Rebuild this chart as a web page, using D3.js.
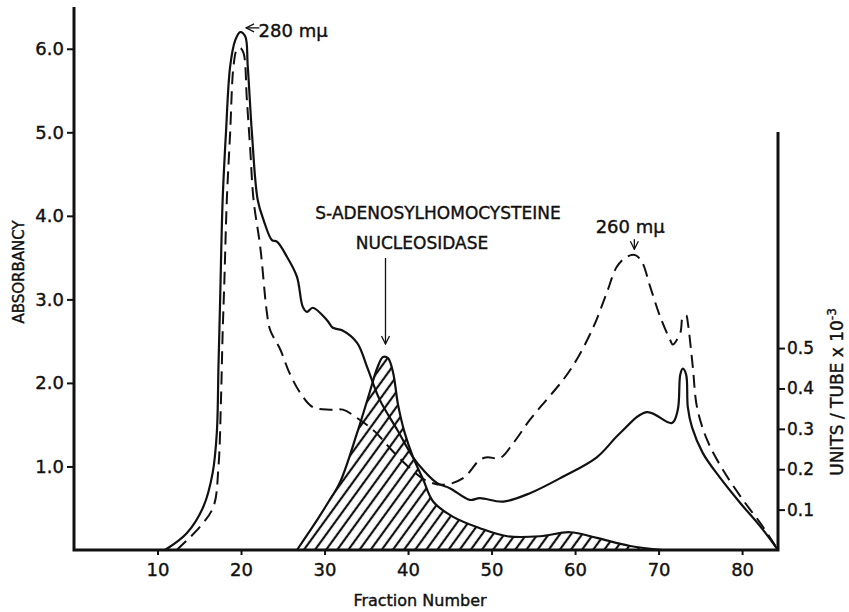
<!DOCTYPE html>
<html lang="en">
<head>
    <meta charset="UTF-8" />
    <title>Fraction profile</title>
    <script src="https://d3js.org/d3.v7.min.js"></script>
    <style>
        body { margin: 0; background: #fff; }
        text { font-family: "DejaVu Sans", sans-serif; fill: #111; stroke: #111; stroke-width: 0.4px; }
    </style>
</head>
<body>
    <script>
        var w = 849;
        var h = 612;

        // absorbancy at 280 mu (solid)
        var fraction280 = [10.9, 13.5, 15.5, 16.6, 17.1, 17.3, 17.5, 17.8, 18.2, 18.7, 19.3, 19.9, 20.5, 20.8, 21.3, 22.0,
            22.7, 23.7, 24.3, 25.5, 26.7, 27.4, 27.9, 28.6, 30.3, 31.0, 32.1, 33.9, 35.1, 36.6, 38.7, 40.6, 41.8, 43.5,
            45.0, 47.4, 48.6, 51.4, 54.6, 58.6, 62.6, 65.4, 68.6, 71.6, 72.3, 72.6, 72.9, 73.3, 73.5, 74.0, 75.3, 77.4,
            79.8, 82.2, 84.3];
        var abs280 = [0, 0.2, 0.52, 0.92, 1.4, 2.2, 3.0, 4.19, 5.0, 5.79, 6.1, 6.2, 6.15, 5.8, 5.0, 4.19,
            3.95, 3.71, 3.69, 3.51, 3.27, 2.91, 2.85, 2.9, 2.75, 2.66, 2.63, 2.48, 2.19, 1.8, 1.44, 1.11, 0.96, 0.8,
            0.74, 0.6, 0.62, 0.58, 0.68, 0.88, 1.11, 1.4, 1.65, 1.52, 1.68, 2.1, 2.17, 2.1, 1.71, 1.47, 1.16, 0.86,
            0.56, 0.28, 0];

        // absorbancy at 260 mu (dashed)
        var fraction260 = [12.3, 15.1, 16.7, 17.3, 17.6, 17.8, 18.0, 18.3, 18.7, 19.1, 19.5, 19.9, 20.3, 20.7, 21.1, 21.5,
            22.3, 23.1, 23.5, 24.7, 25.8, 27.1, 28.6, 30.7, 32.2, 33.9, 36.0, 38.0, 40.0, 42.0, 44.2, 46.6, 48.6, 49.5,
            51.0, 52.6, 54.6, 56.6, 58.6, 60.2, 62.2, 63.8, 65.0, 66.2, 67.2, 68.0, 69.0, 70.2, 71.4, 71.7, 72.6, 72.9,
            73.3, 73.5, 74.1, 74.6, 75.8, 77.7, 80.1, 82.2, 84.3];
        var abs260 = [0, 0.28, 0.52, 1.0, 1.8, 2.6, 3.2, 4.19, 5.0, 5.79, 5.99, 6.01, 5.95, 5.39, 4.8, 4.19,
            3.63, 2.84, 2.63, 2.4, 2.12, 1.88, 1.71, 1.68, 1.68, 1.58, 1.42, 1.2, 1.0, 0.84, 0.78, 0.86, 1.08, 1.11,
            1.1, 1.28, 1.56, 1.8, 2.04, 2.28, 2.67, 3.08, 3.39, 3.51, 3.53, 3.45, 3.15, 2.79, 2.51, 2.46, 2.6, 2.79,
            2.81, 2.72, 2.19, 1.71, 1.32, 0.96, 0.6, 0.32, 0];

        // enzyme activity, units/tube x 10^-3 (hatched)
        var fractionEnz = [26.7, 28.0, 29.1, 30.5, 31.9, 33.9, 35.4, 36.3, 37.0, 37.6, 38.2, 38.8, 39.6, 40.6, 41.8, 43.0,
            45.4, 48.6, 51.9, 55.8, 59.4, 62.6, 66.6, 70.5];
        var unitsEnz = [0, 0.04, 0.074, 0.12, 0.17, 0.29, 0.39, 0.45, 0.478, 0.475, 0.44, 0.36, 0.29, 0.23, 0.175, 0.12,
            0.082, 0.054, 0.034, 0.034, 0.044, 0.03, 0.01, 0];

        var xTicks = [10, 20, 30, 40, 50, 60, 70, 80];
        var leftTicks = [1, 2, 3, 4, 5, 6];
        var rightTicks = [0.1, 0.2, 0.3, 0.4, 0.5];

        var svg = d3.select("body")
            .append("svg")
            .attr("width", w)
            .attr("height", h);

        // Scales
        var xScale = d3.scaleLinear().domain([0, 84.3]).range([74, 778]);
        var yLeft = d3.scaleLinear().domain([0, 6.5]).range([550, 7]);
        var yRight = d3.scaleLinear().domain([0, 1.035]).range([550, 132]);

        // hatch pattern
        var defs = svg.append("defs");
        defs.append("pattern")
            .attr("id", "hatch")
            .attr("patternUnits", "userSpaceOnUse")
            .attr("width", 9)
            .attr("height", 9)
            .attr("patternTransform", "rotate(36)")
            .append("line")
            .attr("x1", 2).attr("y1", 0)
            .attr("x2", 2).attr("y2", 9)
            .attr("stroke", "#111")
            .attr("stroke-width", 2.2);

        defs.append("marker")
            .attr("id", "arr")
            .attr("viewBox", "0 0 10 10")
            .attr("refX", 9).attr("refY", 5)
            .attr("markerWidth", 10).attr("markerHeight", 10)
            .attr("markerUnits", "userSpaceOnUse")
            .attr("orient", "auto")
            .append("path")
            .attr("d", "M1,1 L9,5 L1,9")
            .attr("fill", "none")
            .attr("stroke", "#111")
            .attr("stroke-width", 1.3);

        // Enzyme area
        var enz = fractionEnz.map(function(f, i) { return [f, unitsEnz[i]]; });
        var area = d3.area()
            .x(function(d) { return xScale(d[0]); })
            .y0(yRight(0))
            .y1(function(d) { return yRight(d[1]); })
            .curve(d3.curveCatmullRom.alpha(0.5));
        var line = d3.line()
            .x(function(d) { return xScale(d[0]); })
            .y(function(d) { return yRight(d[1]); })
            .curve(d3.curveCatmullRom.alpha(0.5));

        svg.append("path")
            .attr("d", area(enz))
            .attr("fill", "url(#hatch)");
        svg.append("path")
            .attr("d", line(enz))
            .attr("fill", "none")
            .attr("stroke", "#111")
            .attr("stroke-width", 2.2);

        // Absorbancy curves
        var absLine = d3.line()
            .x(function(d) { return xScale(d[0]); })
            .y(function(d) { return yLeft(d[1]); })
            .curve(d3.curveCatmullRom.alpha(0.5));

        var solid = fraction280.map(function(f, i) { return [f, abs280[i]]; });
        var dashed = fraction260.map(function(f, i) { return [f, abs260[i]]; });

        svg.append("path")
            .attr("d", absLine(dashed))
            .attr("fill", "none")
            .attr("stroke", "#111")
            .attr("stroke-width", 2)
            .attr("stroke-dasharray", "13,7");

        svg.append("path")
            .attr("d", absLine(solid))
            .attr("fill", "none")
            .attr("stroke", "#111")
            .attr("stroke-width", 2.2);

        // Axes
        var xAxis = d3.axisBottom(xScale)
            .tickValues(xTicks)
            .tickSize(5)
            .tickSizeOuter(0)
            .tickPadding(8)
            .tickFormat(d3.format("d"));
        var gx = svg.append("g")
            .attr("transform", "translate(0,550)")
            .call(xAxis);

        var gl = svg.append("g")
            .attr("transform", "translate(74,0)")
            .call(d3.axisLeft(yLeft)
                .tickValues(leftTicks)
                .tickSize(7)
                .tickSizeOuter(0)
                .tickPadding(3)
                .tickFormat(d3.format(".1f")));

        var gr = svg.append("g")
            .attr("transform", "translate(778,0)")
            .call(d3.axisRight(yRight)
                .tickValues(rightTicks)
                .tickSize(7)
                .tickSizeOuter(0)
                .tickPadding(2)
                .tickFormat(d3.format(".1f")));

        [gx, gl, gr].forEach(function(g) {
            g.selectAll(".domain").remove();
            g.selectAll(".tick line").attr("stroke", "#111").attr("stroke-width", 2);
            g.selectAll(".tick text").style("font-size", "18px").attr("fill", "#111");
        });
        gr.selectAll(".tick text").style("font-size", "17px");

        // axis lines
        svg.append("path")
            .attr("d", "M" + xScale(0) + "," + yLeft(6.5) + "V" + yLeft(0) + "H" + xScale(84.3) + "V" + yRight(1.035))
            .attr("fill", "none")
            .attr("stroke", "#111")
            .attr("stroke-width", 3);

        // Axis titles
        svg.append("text")
            .attr("x", 420)
            .attr("y", 606)
            .attr("text-anchor", "middle")
            .style("font-size", "16px")
            .text("Fraction Number");

        svg.append("text")
            .attr("transform", "translate(24,272) rotate(-90)")
            .attr("text-anchor", "middle")
            .style("font-size", "15px")
            .text("ABSORBANCY");

        var rt = svg.append("text")
            .attr("transform", "translate(843,392) rotate(-90)")
            .attr("text-anchor", "middle")
            .style("font-size", "17px");
        rt.append("tspan").text("UNITS / TUBE  x 10");
        rt.append("tspan").attr("dy", -7).style("font-size", "12px").text("-3");

        // Annotations
        svg.append("text")
            .attr("x", xScale(22.1))
            .attr("y", yLeft(6.2) + 5)
            .style("font-size", "18px")
            .text("280 m\u03bc");
        svg.append("line")
            .attr("x1", xScale(22.2)).attr("y1", yLeft(6.25))
            .attr("x2", xScale(20.6)).attr("y2", yLeft(6.25))
            .attr("stroke", "#111").attr("stroke-width", 1.3)
            .attr("marker-end", "url(#arr)");

        svg.append("text")
            .attr("x", xScale(66.6))
            .attr("y", yLeft(3.87) + 6)
            .attr("text-anchor", "middle")
            .style("font-size", "18px")
            .text("260 m\u03bc");
        svg.append("line")
            .attr("x1", xScale(67.1)).attr("y1", yLeft(3.72))
            .attr("x2", xScale(67.1)).attr("y2", yLeft(3.6))
            .attr("stroke", "#111").attr("stroke-width", 1.3)
            .attr("marker-end", "url(#arr)");

        svg.append("text")
            .attr("x", 438)
            .attr("y", 219)
            .attr("text-anchor", "middle")
            .style("font-size", "17px")
            .text("S-ADENOSYLHOMOCYSTEINE");
        svg.append("text")
            .attr("x", 422)
            .attr("y", 249)
            .attr("text-anchor", "middle")
            .style("font-size", "17px")
            .text("NUCLEOSIDASE");
        svg.append("line")
            .attr("x1", xScale(37.3)).attr("y1", 258)
            .attr("x2", xScale(37.3)).attr("y2", 344)
            .attr("stroke", "#111").attr("stroke-width", 1.3)
            .attr("marker-end", "url(#arr)");
    </script>
</body>
</html>
